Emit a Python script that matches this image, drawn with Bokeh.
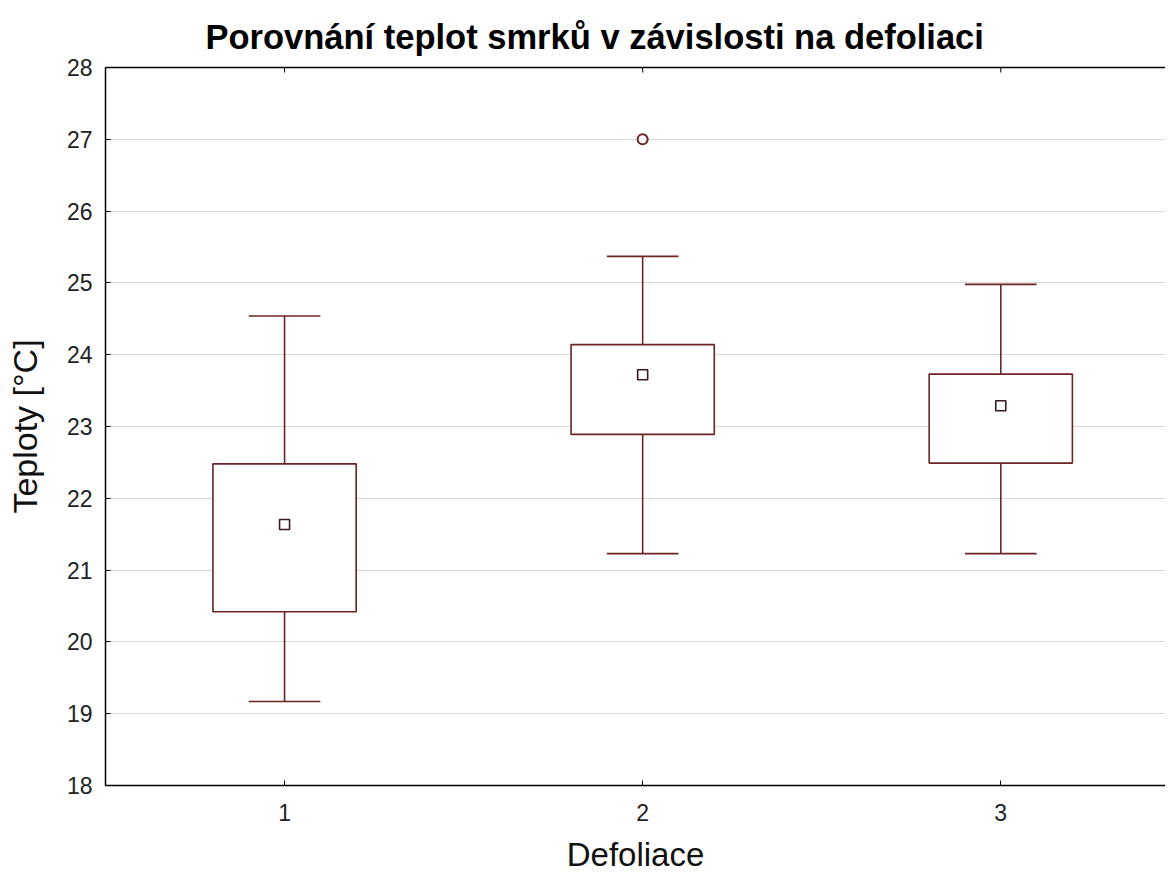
from bokeh.plotting import figure
from bokeh.models import LinearAxis, FixedTicker, Range1d, ColumnDataSource
from bokeh.embed import file_html
from bokeh.resources import INLINE

# ---- data ----
groups = [1, 2, 3]
q1 = [20.42, 22.89, 22.49]
q3 = [22.48, 24.14, 23.73]
means = [21.635, 23.72, 23.29]
whisk_lo = [19.17, 21.23, 21.23]
whisk_hi = [24.54, 25.37, 24.98]
outlier_x = [2]
outlier_y = [27.0]
y_ticks = [18, 19, 20, 21, 22, 23, 24, 25, 26, 27, 28]

title_text = "Porovnání teplot smrků v závislosti na defoliaci"
x_label = "Defoliace"
y_label = "Teploty [°C]"

COL = "#6a2424"
FONT = "Liberation Sans"
box_w = 0.4
cap_w = 0.2

src = ColumnDataSource(dict(
    x=groups, q1=q1, q3=q3, mean=means, lo=whisk_lo, hi=whisk_hi,
    left=[g - box_w / 2 for g in groups], right=[g + box_w / 2 for g in groups],
    cl=[g - cap_w / 2 for g in groups], cr=[g + cap_w / 2 for g in groups],
))

y_lo, y_hi = y_ticks[0], y_ticks[-1]

p = figure(width=1165, height=875, output_backend="svg", toolbar_location=None,
           x_range=Range1d(0.5, 3.46), y_range=Range1d(y_lo, y_hi),
           min_border_left=105, min_border_right=0, min_border_top=67, min_border_bottom=80)

p.title.text = title_text
p.title.text_font = FONT
p.title.text_font_size = "34.5px"
p.title.text_font_style = "bold"
p.title.text_color = "#000000"
p.title.align = "left"
p.title.offset = 100
p.title.standoff = 24

p.outline_line_color = None
p.background_fill_color = "white"
p.border_fill_color = "white"

# axes
for ax in (p.xaxis[0], p.yaxis[0]):
    ax.axis_line_color = "#000000"
    ax.axis_line_width = 1.5
    ax.major_tick_in = 5
    ax.major_tick_out = 0
    ax.minor_tick_line_color = None
    ax.major_tick_line_color = "#000000"
    ax.major_label_text_font = FONT
    ax.major_label_text_font_size = "23px"
    ax.major_label_text_color = "#222222"
    ax.axis_label_text_font = FONT
    ax.axis_label_text_font_size = "33px"
    ax.axis_label_text_font_style = "normal"
    ax.axis_label_text_color = "#111111"

p.yaxis[0].axis_label_text_font_size = "34px"
p.xaxis[0].ticker = FixedTicker(ticks=groups)
p.yaxis[0].ticker = FixedTicker(ticks=y_ticks)
p.xaxis[0].axis_label = x_label
p.yaxis[0].axis_label = y_label
p.xaxis[0].major_label_standoff = 18
p.xaxis[0].axis_label_standoff = 12
p.yaxis[0].major_label_standoff = 13
p.yaxis[0].axis_label_standoff = 20

# top frame line (no labels) with small inward ticks drawn at the group positions
top = LinearAxis(ticker=FixedTicker(ticks=[]), major_tick_line_color=None,
                 minor_tick_line_color=None, axis_line_color="#000000",
                 axis_line_width=1.5)
p.add_layout(top, "above")
tick_len = (y_hi - y_lo) * 5 / 718
p.segment(x0=groups, y0=[y_hi] * len(groups), x1=groups, y1=[y_hi - tick_len] * len(groups),
          line_color="#000000", line_width=1)

p.xgrid.grid_line_color = None
p.ygrid.grid_line_color = "#d9d9d9"
p.ygrid.grid_line_width = 1.2
p.ygrid.ticker = FixedTicker(ticks=y_ticks)

# whiskers
p.segment(x0="x", y0="q3", x1="x", y1="hi", source=src, line_color=COL, line_width=1.6)
p.segment(x0="x", y0="lo", x1="x", y1="q1", source=src, line_color=COL, line_width=1.6)
p.segment(x0="cl", y0="hi", x1="cr", y1="hi", source=src, line_color=COL, line_width=1.6)
p.segment(x0="cl", y0="lo", x1="cr", y1="lo", source=src, line_color=COL, line_width=1.6)
# boxes
p.quad(left="left", right="right", bottom="q1", top="q3", source=src,
       fill_color="white", line_color=COL, line_width=1.6)
# means
p.scatter(x="x", y="mean", source=src, marker="square", size=10,
          fill_color="white", line_color="#3a1a1a", line_width=1.6)
# outlier
p.scatter(x=outlier_x, y=outlier_y, marker="circle", size=10,
          fill_color="white", line_color=COL, line_width=2)

open("out.html", "w").write(file_html(p, INLINE))
